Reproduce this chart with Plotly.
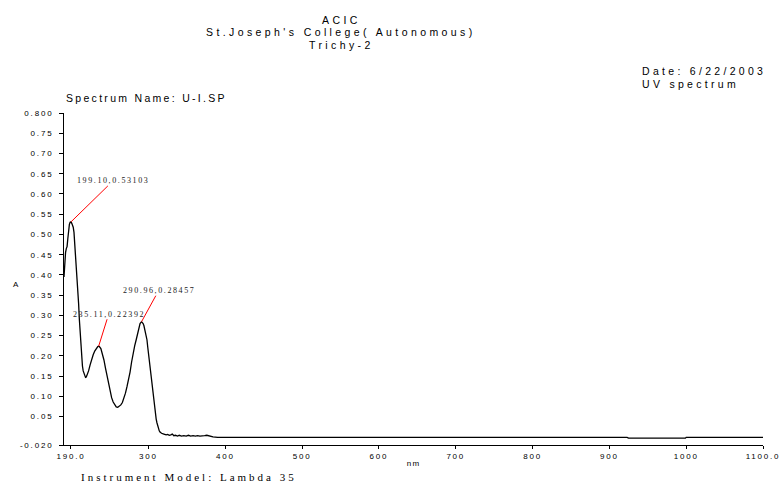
import plotly.graph_objects as go

# ---- data ----
wavelength = [
    190, 191, 192, 193, 194, 195, 196, 197, 198, 199.1,
    200, 201, 202, 203, 204, 205, 206, 207, 208, 209,
    210, 211, 212, 213, 214, 215, 216, 217, 218, 219,
    220, 222, 224, 226, 228, 230, 232, 234, 235.11, 236,
    238, 240, 242, 244, 246, 248, 250, 252, 254, 256,
    258, 260, 262, 264, 266, 268, 270, 272, 274, 276,
    278, 280, 282, 284, 286, 288, 289, 290.96, 292, 293,
    294, 295, 296, 297, 298, 299, 300, 301, 302, 303,
    304, 305, 306, 307, 308, 309, 310, 311, 312, 313,
    314, 315, 317, 320, 323, 325, 327, 329, 331, 333,
    335, 338, 340, 343, 346, 349, 352, 355, 358, 361,
    364, 367, 370, 373, 376, 379, 381, 384, 390, 500,
    700, 923, 925, 999, 1000, 1100,
]
absorbance = [
    0.395, 0.43, 0.455, 0.465, 0.47, 0.49, 0.515, 0.525, 0.53, 0.531,
    0.528, 0.522, 0.518, 0.505, 0.48, 0.455, 0.43, 0.405, 0.37, 0.33,
    0.29, 0.255, 0.22, 0.195, 0.175, 0.163, 0.155, 0.15, 0.147, 0.148,
    0.152, 0.163, 0.178, 0.192, 0.203, 0.212, 0.219, 0.223, 0.224, 0.223,
    0.218, 0.205, 0.19, 0.17, 0.15, 0.13, 0.112, 0.097, 0.086, 0.078,
    0.074, 0.073, 0.075, 0.079, 0.085, 0.095, 0.108, 0.124, 0.14, 0.16,
    0.185, 0.208, 0.225, 0.24, 0.258, 0.273, 0.28, 0.2846, 0.283, 0.28,
    0.275, 0.268, 0.258, 0.25, 0.24, 0.222, 0.205, 0.19, 0.175, 0.16,
    0.145, 0.125, 0.103, 0.085, 0.068, 0.055, 0.044, 0.035, 0.027, 0.02,
    0.015, 0.012, 0.009, 0.007, 0.005, 0.006, 0.004, 0.005, 0.007, 0.003,
    0.004, 0.002, 0.004, 0.002, 0.003, 0.002, 0.004, 0.002, 0.003, 0.002,
    0.003, 0.002, 0.002, 0.003, 0.004, 0.002, 0.001, 0.0, -0.001, -0.001,
    -0.001, -0.001, -0.003, -0.003, -0.001, -0.001,
]

peak_wl = [199.10, 235.11, 290.96]
peak_abs = [0.53103, 0.22392, 0.28457]
peak_labels = ["199.10,0.53103", "235.11,0.22392", "290.96,0.28457"]

x_tickvals = [199, 300, 400, 500, 600, 700, 800, 900, 1000, 1100]
x_ticktext = ["190.0", "300", "400", "500", "600", "700", "800", "900", "1000", "1100.0"]
y_tickvals = [-0.02, 0.05, 0.10, 0.15, 0.20, 0.25, 0.30, 0.35, 0.40, 0.45, 0.50, 0.55, 0.60,
              0.65, 0.70, 0.75, 0.80]
y_ticktext = ["-0.020", "0.05", "0.10", "0.15", "0.20", "0.25", "0.30", "0.35", "0.40", "0.45",
              "0.50", "0.55", "0.60", "0.65", "0.70", "0.75", "0.800"]

SANS = "Liberation Sans"
SERIF = "Liberation Serif"


def spaced(txt, px):
    return '<span style="letter-spacing:%.1fpx">%s</span>' % (px, txt)


W, H = 782, 484
L_M, R_M, T_M, B_M = 63.5, 18.7, 113, 39
PW = W - L_M - R_M
PH = H - T_M - B_M


def px_x(x):
    return (x - L_M) / PW


def px_y(y):
    return (H - y - B_M) / PH


fig = go.Figure()
fig.add_trace(go.Scatter(x=wavelength, y=absorbance, mode="lines",
                         line=dict(color="black", width=1.3), hoverinfo="skip"))

annotations = []
peak_offsets = [(42, -41), (10, -32), (17, -31)]
for wl, ab, lab, (ax, ay) in zip(peak_wl, peak_abs, peak_labels, peak_offsets):
    annotations.append(dict(x=wl, y=ab, xref="x", yref="y", text=spaced(lab, 1.6),
                            showarrow=True, arrowhead=0, arrowwidth=1, arrowcolor="red",
                            ax=ax, ay=ay, borderpad=0,
                            font=dict(family=SERIF, size=8, color="#222222")))

header = [("ACIC", 20), ("St.Joseph's College( Autonomous)", 32), ("Trichy-2", 44.5)]
for txt, yy in header:
    annotations.append(dict(text=spaced(txt, 3.4), x=px_x(341), y=px_y(yy), xref="paper",
                            yref="paper", xanchor="center", yanchor="middle",
                            showarrow=False, borderpad=0,
                            font=dict(family=SANS, size=10.5, color="black")))

left_texts = [
    ("Date: 6/22/2003", 641, 71, SANS, 10.5, 3.3),
    ("UV spectrum", 641, 84, SANS, 10.5, 3.3),
    ("Spectrum Name: U-I.SP", 65, 98, SANS, 10.5, 2.3),
    ("A", 11, 284, SANS, 8, 0),
    ("Instrument Model: Lambda 35", 80, 476.5, SERIF, 11, 3.0),
]
for txt, xx, yy, fam, sz, sp in left_texts:
    annotations.append(dict(text=spaced(txt, sp), x=px_x(xx), y=px_y(yy), xref="paper",
                            yref="paper", xanchor="left", yanchor="middle",
                            showarrow=False, borderpad=0,
                            font=dict(family=fam, size=sz, color="black")))

fig.update_layout(
    width=W, height=H, autosize=False,
    margin=dict(l=L_M, r=R_M, t=T_M, b=B_M, pad=0, autoexpand=False),
    paper_bgcolor="white", plot_bgcolor="white",
    showlegend=False,
    annotations=annotations,
    xaxis=dict(range=[190, 1100], tickvals=x_tickvals,
               ticktext=[spaced(t, 1.8) for t in x_ticktext],
               showline=True, linecolor="black", linewidth=1, ticks="outside",
               ticklen=3, tickcolor="black", showgrid=False, zeroline=False,
               automargin=False,
               tickfont=dict(family=SANS, size=8, color="black"),
               title=dict(text=spaced("nm", 1.2), font=dict(family=SANS, size=8, color="black"),
                          standoff=0)),
    yaxis=dict(range=[-0.02, 0.80], tickvals=y_tickvals,
               ticktext=[spaced(t, 1.8) for t in y_ticktext],
               showline=True, linecolor="black", linewidth=1, ticks="outside",
               ticklen=4, tickcolor="black", showgrid=False, zeroline=False,
               automargin=False, ticklabelstandoff=4,
               tickfont=dict(family=SANS, size=8, color="black")),
)

fig.write_html("out.html", config={"responsive": False})
